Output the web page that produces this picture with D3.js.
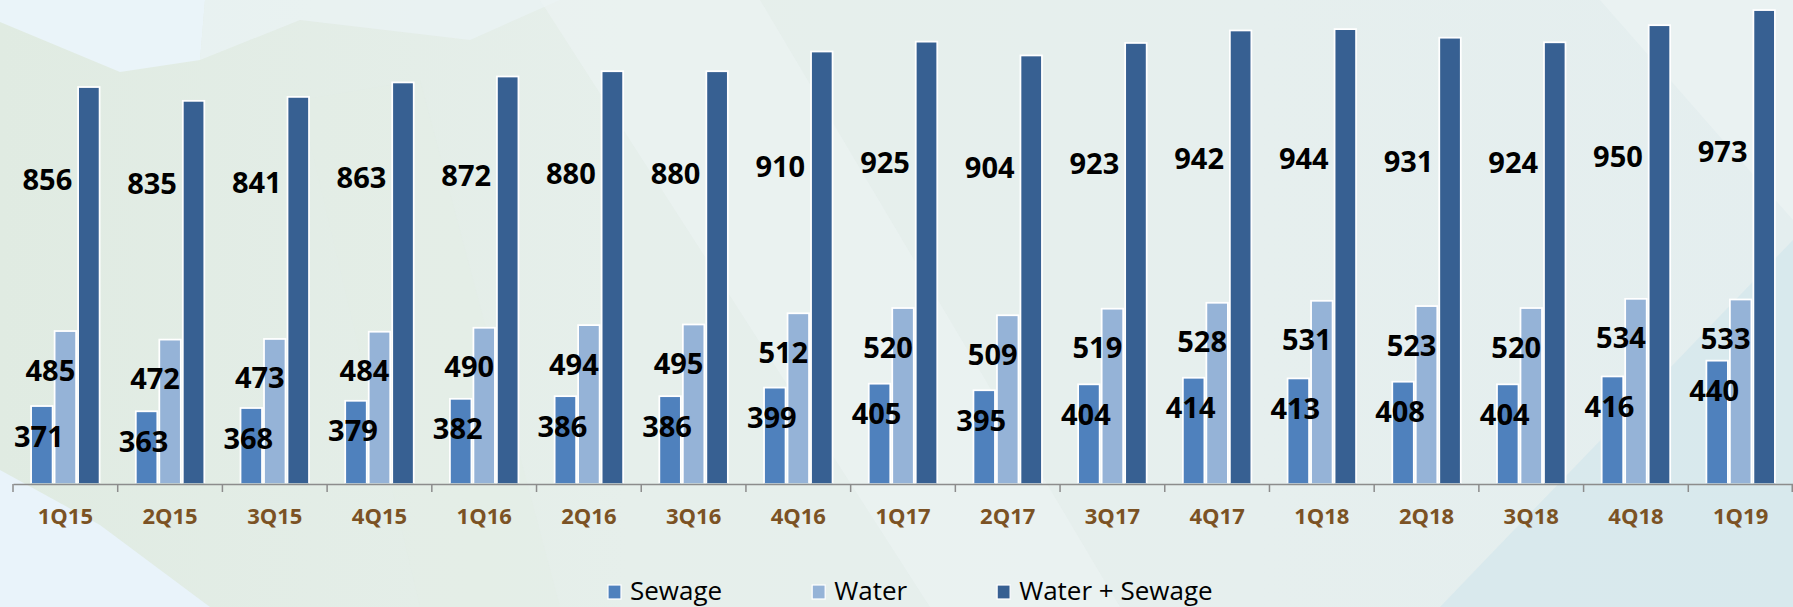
<!DOCTYPE html>
<html><head><meta charset="utf-8">
<script src="https://cdn.jsdelivr.net/npm/d3@7"></script>
<style>
html,body{margin:0;padding:0;background:#e6efec;overflow:hidden;}
svg{display:block;}
</style></head><body>
<svg id="chart" width="1793" height="607"></svg>
<script>
// ---------- data ----------
const categories = ["1Q15","2Q15","3Q15","4Q15","1Q16","2Q16","3Q16","4Q16","1Q17","2Q17","3Q17","4Q17","1Q18","2Q18","3Q18","4Q18","1Q19"];
const sewage = [371,363,368,379,382,386,386,399,405,395,404,414,413,408,404,416,440];
const water  = [485,472,473,484,490,494,495,512,520,509,519,528,531,523,520,534,533];
const total  = [856,835,841,863,872,880,880,910,925,904,923,942,944,931,924,950,973];
const seriesNames = ["Sewage","Water","Water + Sewage"];
const seriesColors = ["#4F81BD","#95B3D7","#376092"];
const yAxisMin = 254, yAxisMax = 1000;

// ---------- layout ----------
const W = 1793, H = 607;
const baseY = 483, topY = -7.7, xLeft = 13, xRight = 1793;
const svg = d3.select("#chart");

// background
const defs = svg.append("defs");
const g0 = defs.append("linearGradient").attr("id","bg").attr("x1","0").attr("y1","0").attr("x2","1").attr("y2","0");
g0.append("stop").attr("offset","0%").attr("stop-color","#e0ebe2");
g0.append("stop").attr("offset","35%").attr("stop-color","#e6efeb");
g0.append("stop").attr("offset","70%").attr("stop-color","#e6efee");
g0.append("stop").attr("offset","100%").attr("stop-color","#e4eeef");
svg.append("rect").attr("width",W).attr("height",H).attr("fill","url(#bg)");
const bgShapes = [
  {pts:[[0,0],[205,0],[200,60],[120,72],[0,22]], fill:"#eaf4f9", op:1},
  {pts:[[205,0],[560,0],[470,40],[300,20],[200,60]], fill:"#eaf3f4", op:0.8},
  {pts:[[0,470],[100,525],[210,607],[0,607]], fill:"#e9f3fa", op:1},
  {pts:[[540,0],[760,0],[1120,607],[930,607]], fill:"#edf4f3", op:0.6},
  {pts:[[1793,240],[1793,607],[1440,607]], fill:"#d4e7ec", op:0.75},
  {pts:[[1600,0],[1793,0],[1793,220]], fill:"#ecf3f4", op:0.7},
  {pts:[[300,100],[420,607],[560,607],[420,80]], fill:"#e3ede6", op:0.5}
];
svg.append("g").selectAll("polygon").data(bgShapes).join("polygon")
  .attr("points", d => d.pts.map(p => p.join(",")).join(" "))
  .attr("fill", d => d.fill).attr("opacity", d => d.op);

// scales
const x0 = d3.scaleBand().domain(categories).range([xLeft, xRight]).padding(0);
const groupW = 70.5;
const x1 = d3.scaleBand().domain(seriesNames).range([0, groupW]).padding(0);
const gOff = (x0.bandwidth() - groupW) / 2;
const y = d3.scaleLinear().domain([yAxisMin, yAxisMax]).range([baseY, topY]);
const color = d3.scaleOrdinal().domain(seriesNames).range(seriesColors);

const rows = categories.map((c, i) => ({cat: c, vals: [sewage[i], water[i], total[i]]}));
const cx = (c, s) => x0(c) + gOff + x1(s) + x1.bandwidth() / 2;

// bars
defs.append("clipPath").attr("id","plotclip").append("rect")
  .attr("x",0).attr("y",-20).attr("width",W).attr("height",baseY + 20.3);
const barG = svg.append("g").attr("clip-path","url(#plotclip)");
rows.forEach(r => {
  seriesNames.forEach((s, k) => {
    barG.append("rect")
      .attr("x", x0(r.cat) + gOff + x1(s) + 1)
      .attr("width", x1.bandwidth() - 2)
      .attr("y", y(r.vals[k]))
      .attr("height", baseY + 10 - y(r.vals[k]))
      .attr("fill", color(s))
      .attr("stroke", "#ffffff").attr("stroke-width", 1.75);
  });
});

// axis
const axis = d3.axisBottom(x0).tickSize(0).tickSizeOuter(0);
const axG = svg.append("g").attr("transform", `translate(0,${baseY + 1})`).call(axis);
axG.select(".domain").attr("stroke","#8c8c8c").attr("stroke-width",1.5);
axG.selectAll("text")
  .attr("y", 39.5).attr("dy", 0)
  .attr("font-family","'Open Sans', sans-serif").attr("font-weight",700)
  .attr("font-size",22).attr("fill","#7B5224");
const bounds = categories.map(c => x0(c)).concat([x0(categories[categories.length-1]) + x0.bandwidth() - 0.75]);
axG.selectAll("line.bound").data(bounds).join("line").attr("class","bound")
  .attr("x1", d => d).attr("x2", d => d).attr("y1", 0).attr("y2", 8)
  .attr("stroke","#8c8c8c").attr("stroke-width",1.5);

// value labels
const lab = svg.append("g")
  .attr("font-family","'Open Sans', sans-serif").attr("font-weight",700)
  .attr("font-size",29).attr("fill","#000").attr("text-anchor","middle");
rows.forEach(r => {
  lab.append("text").attr("x", cx(r.cat, seriesNames[0]) - 3)
    .attr("y", y(r.vals[0]) + 40.5).text(r.vals[0]);
  lab.append("text").attr("x", cx(r.cat, seriesNames[1]) - 15)
    .attr("y", y(r.vals[1]) + 49.5).text(r.vals[1]);
  lab.append("text").attr("x", cx(r.cat, seriesNames[2]) - 41.5)
    .attr("y", 0.36 * y(r.vals[2]) + 158.2).text(r.vals[2]);
});

// legend
const leg = svg.append("g").attr("font-family","'Open Sans', sans-serif").attr("font-size",26).attr("fill","#000");
let lx = 608;
seriesNames.forEach((s, k) => {
  leg.append("rect").attr("x", lx).attr("y", 585).attr("width", 13).attr("height", 14)
    .attr("fill", color(s)).attr("stroke","#fff").attr("stroke-width",1.2);
  const t = leg.append("text").attr("x", lx + 22).attr("y", 599.5).text(s);
  const w = t.node().getComputedTextLength();
  lx = lx + 22 + w + 90;
});
</script>
</body></html>
